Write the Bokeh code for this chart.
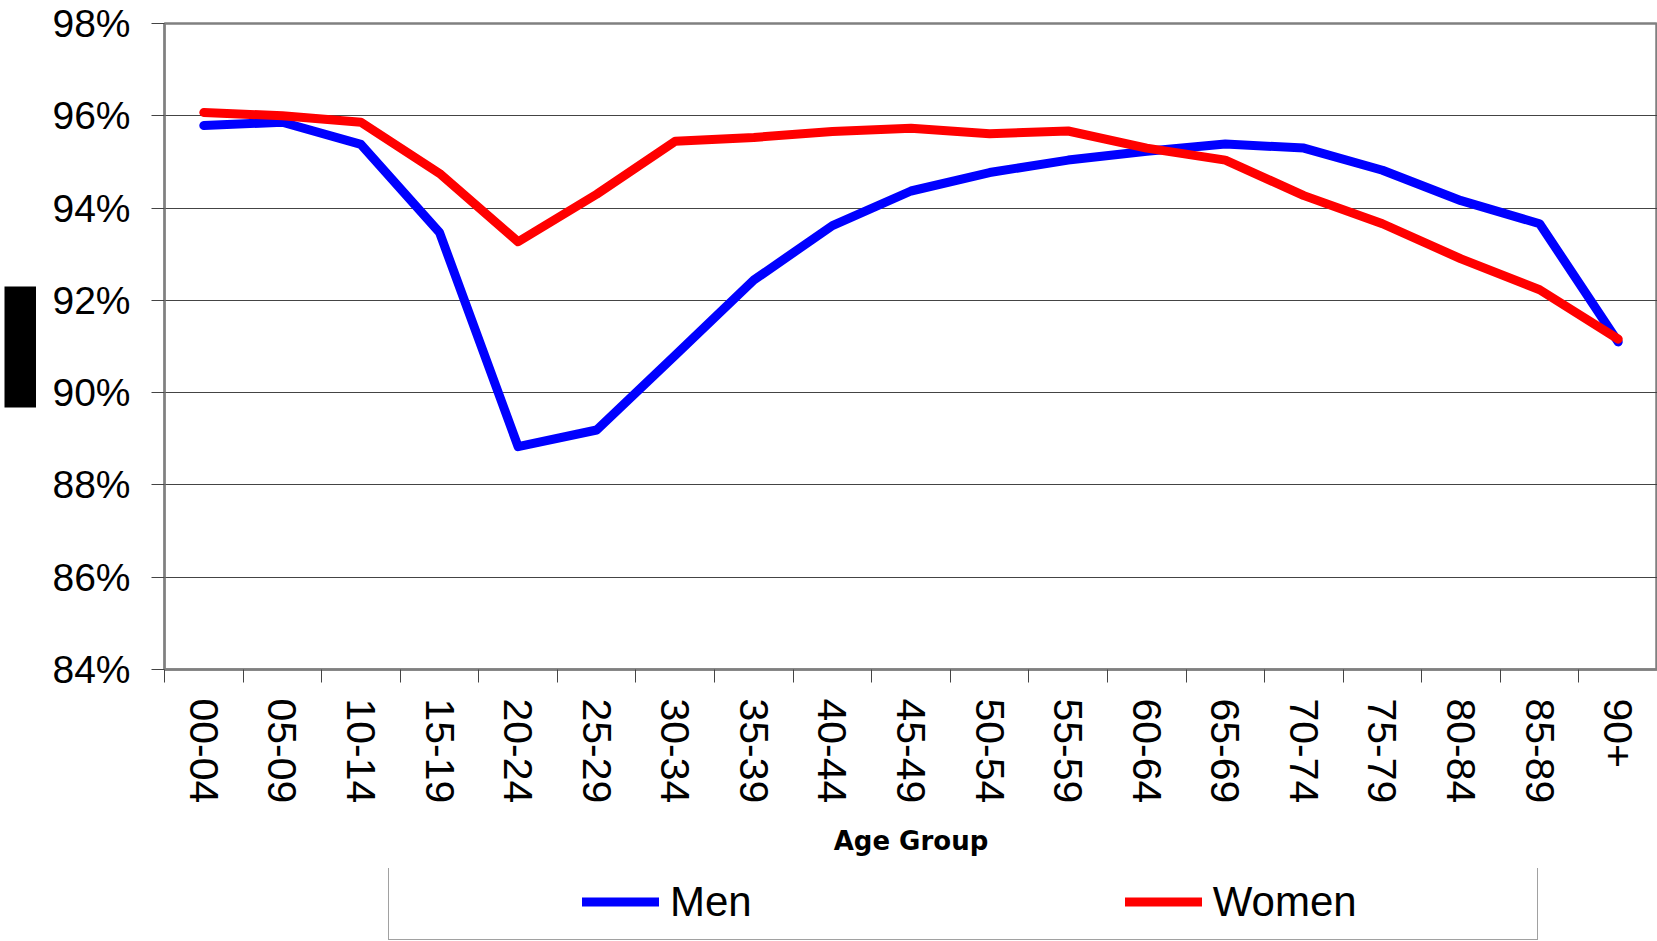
from bokeh.plotting import figure
from bokeh.models import Range1d, FixedTicker, PrintfTickFormatter, Legend, LegendItem
from bokeh.layouts import gridplot
from bokeh.embed import file_html
from bokeh.resources import INLINE

# ---------------- data ----------------
age_groups = ["00-04", "05-09", "10-14", "15-19", "20-24", "25-29", "30-34", "35-39",
              "40-44", "45-49", "50-54", "55-59", "60-64", "65-69", "70-74", "75-79",
              "80-84", "85-89", "90+"]
men = [95.79, 95.86, 95.38, 93.47, 88.83, 89.19, 90.81, 92.44, 93.62, 94.37,
       94.77, 95.04, 95.23, 95.39, 95.30, 94.82, 94.16, 93.66, 91.10]
women = [96.07, 96.00, 95.86, 94.75, 93.27, 94.30, 95.45, 95.53, 95.66, 95.73,
         95.61, 95.67, 95.30, 95.04, 94.27, 93.66, 92.90, 92.23, 91.16]
y_ticks = [84, 86, 88, 90, 92, 94, 96, 98]
series_names = ["Men", "Women"]
series_colors = ["#0000FF", "#FF0000"]
x_title = "Age Group"

# ---------------- layout / styling ----------------
SIDE_W = 36          # strip at the far left holding the black block
MAIN_W = 1621
MAIN_H = 868
LEG_H = 73
FRAME_L = 128        # frame left inside the main canvas
FRAME_T = 23
FRAME_B = 199
GRID = "#444444"
FRAME = "#808080"
LW = 9
NB = "\u00a0"

x_idx = list(range(len(age_groups)))
series = [men, women]

p = figure(width=MAIN_W, height=MAIN_H, output_backend="svg", toolbar_location=None,
           x_range=Range1d(-0.5, len(age_groups) - 0.5),
           y_range=Range1d(y_ticks[0], y_ticks[-1]),
           min_border_left=FRAME_L, min_border_right=0, min_border_top=FRAME_T,
           min_border_bottom=FRAME_B)
p.background_fill_color = "white"
p.border_fill_color = "white"
p.outline_line_color = FRAME
p.outline_line_width = 2.5

p.xgrid.visible = False
p.ygrid.ticker = FixedTicker(ticks=y_ticks)
p.ygrid.grid_line_color = GRID
p.ygrid.grid_line_width = 1

# x axis: labels at category centres, tick marks at category boundaries
xa = p.xaxis[0]
xa.ticker = FixedTicker(ticks=x_idx, minor_ticks=[i - 0.5 for i in range(len(age_groups) + 1)])
xa.major_label_overrides = {i: g for i, g in zip(x_idx, age_groups)}
xa.major_label_orientation = "vertical"
xa.major_tick_line_color = None
xa.major_tick_out = 13
xa.major_tick_in = 0
xa.minor_tick_line_color = GRID
xa.minor_tick_out = 13
xa.minor_tick_in = 0
xa.major_label_standoff = 16
xa.major_label_text_font = "Liberation Sans"
xa.major_label_text_font_size = "41px"
xa.major_label_text_color = "black"
xa.axis_line_color = FRAME
xa.axis_line_width = 2.5
xa.axis_label = x_title
xa.axis_label_text_font = "DejaVu Sans"
xa.axis_label_text_font_style = "bold"
xa.axis_label_text_font_size = "26px"
xa.axis_label_text_color = "black"
xa.axis_label_standoff = 20

ya = p.yaxis[0]
ya.ticker = FixedTicker(ticks=y_ticks, minor_ticks=[])
ya.formatter = PrintfTickFormatter(format="%d%%")
ya.major_label_text_font = "Liberation Sans"
ya.major_label_text_font_size = "39px"
ya.major_label_text_color = "black"
ya.major_label_standoff = 21
ya.major_tick_out = 13
ya.major_tick_in = 0
ya.major_tick_line_color = GRID
ya.minor_tick_line_color = None
ya.axis_line_color = FRAME
ya.axis_line_width = 2

for vals, col in zip(series, series_colors):
    p.line(x_idx, vals, line_color=col, line_width=LW, line_cap="round", line_join="round")

# ---------------- left strip: black block ----------------
FRAME_PX = MAIN_H - FRAME_T - FRAME_B
BLOCK_L, BLOCK_R = 4, SIDE_W
BLOCK_TOP_PX, BLOCK_BOT_PX = 286, 407
q = figure(width=SIDE_W, height=MAIN_H, output_backend="svg", toolbar_location=None,
           x_range=Range1d(0, SIDE_W), y_range=Range1d(0, FRAME_PX),
           min_border_left=0, min_border_right=0, min_border_top=FRAME_T,
           min_border_bottom=FRAME_B)
q.axis.visible = False
q.grid.visible = False
q.outline_line_color = None
q.quad(left=[BLOCK_L], right=[BLOCK_R],
       top=[FRAME_PX - (BLOCK_TOP_PX - FRAME_T)], bottom=[FRAME_PX - (BLOCK_BOT_PX - FRAME_T)],
       fill_color="black", line_color=None)

# ---------------- bottom strip: legend ----------------
s = figure(width=MAIN_W, height=LEG_H, output_backend="svg", toolbar_location=None,
           x_range=Range1d(-0.5, len(age_groups) - 0.5), y_range=Range1d(0, 1),
           min_border_left=FRAME_L, min_border_right=0, min_border_top=0,
           min_border_bottom=0)
s.axis.visible = False
s.grid.visible = False
s.outline_line_color = None
# legend proxies (same series; they fall outside this strip's range and are clipped)
proxies = [s.line(x_idx, vals, line_color=c, line_width=LW, line_cap="round")
           for vals, c in zip(series, series_colors)]
gap = s.line(x=[], y=[], line_alpha=0)

# bordered legend frame: top edge just inside the strip, bottom edge runs off the page
box = Legend(items=[LegendItem(label=NB, renderers=[gap])],
             location=(224, 1), orientation="horizontal",
             padding=11, margin=0, spacing=0, glyph_width=1, glyph_height=100,
             label_height=0, label_width=1125, label_standoff=0,
             border_line_color="#444444", border_line_width=1.5,
             background_fill_color="white", background_fill_alpha=1,
             label_text_font_size="1px", label_text_alpha=0)
s.add_layout(box)

items = Legend(items=[LegendItem(label=n, renderers=[r]) for n, r in zip(series_names, proxies)],
               location=(418, 15), orientation="horizontal",
               padding=9, margin=0, spacing=373, glyph_width=77, glyph_height=49,
               label_height=49, label_width=0, label_standoff=11,
               border_line_color=None, background_fill_alpha=0,
               label_text_font="Liberation Sans", label_text_font_size="42px",
               label_text_color="black")
s.add_layout(items)

grid = gridplot([[q, p], [None, s]], toolbar_location=None)
open("out.html", "w").write(file_html(grid, INLINE))
